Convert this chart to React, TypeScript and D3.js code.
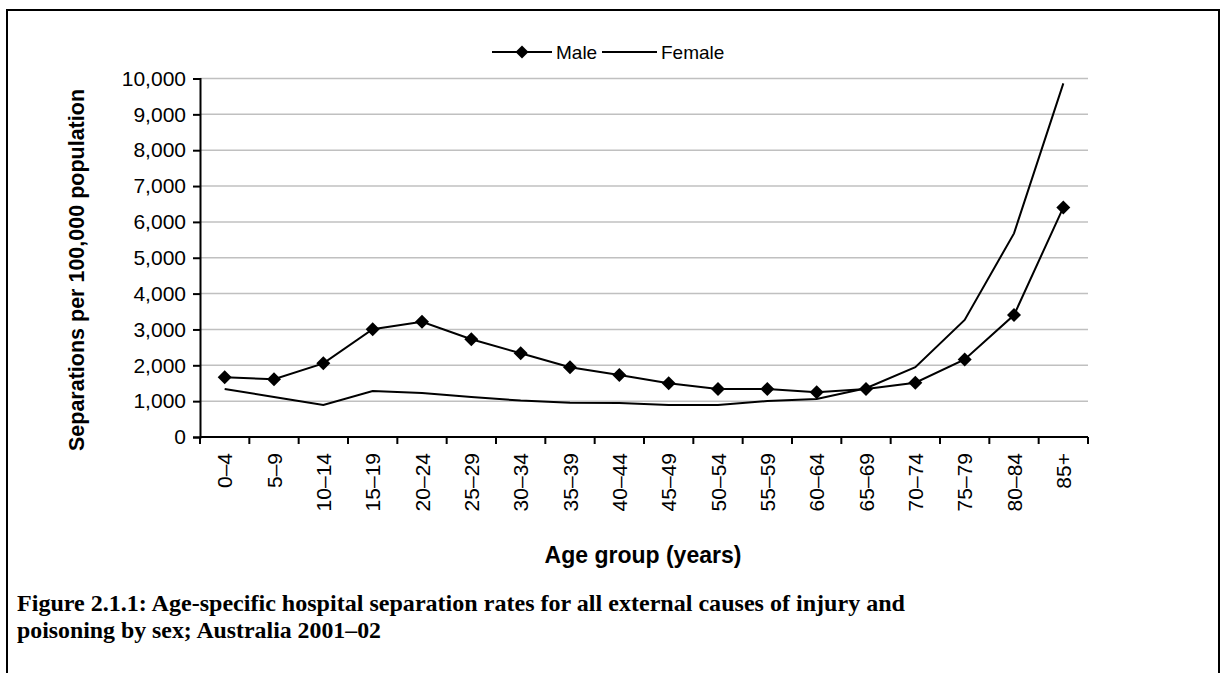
import React, { useEffect, useRef } from "react";
import * as d3 from "d3";

const categories = ["0–4","5–9","10–14","15–19","20–24","25–29","30–34","35–39","40–44","45–49","50–54","55–59","60–64","65–69","70–74","75–79","80–84","85+"];
const maleValues = [1665,1610,2055,3005,3215,2725,2335,1945,1730,1500,1340,1340,1245,1340,1515,2165,3400,6405];
const femaleValues = [1340,1115,895,1285,1225,1115,1015,955,945,895,895,1005,1060,1360,1945,3265,5680,9865];
const yTicks = [0,1000,2000,3000,4000,5000,6000,7000,8000,9000,10000];
const seriesNames = ["Male","Female"];
const yTitle = "Separations per 100,000 population";
const xTitle = "Age group (years)";
const captionLines = [
  "Figure 2.1.1: Age-specific hospital separation rates for all external causes of injury and",
  "poisoning by sex; Australia 2001–02",
];

const W = 1225, H = 673;
const SANS = "'Liberation Sans', Arial, Helvetica, sans-serif";
const SERIF = "'Liberation Serif', 'DejaVu Serif', serif";

export default function App() {
  const ref = useRef<SVGSVGElement>(null);

  useEffect(() => {
    const svg = d3.select(ref.current);
    svg.selectAll("*").remove();

    const left = 200, right = 1088, top = 78.5, bottom = 437;
    const x = d3.scaleBand<string>().domain(categories).range([left, right]).padding(0);
    const xi = d3.scaleLinear().domain([0, categories.length]).range([left, right]);
    const y = d3.scaleLinear().domain([0, 10000]).range([bottom, top]);

    svg.append("rect").attr("x", 0).attr("y", 0).attr("width", W).attr("height", H).attr("fill", "#fff");
    // frame
    svg.append("path")
      .attr("d", `M7,${H + 5} V10 H1219 V${H + 5}`)
      .attr("fill", "none").attr("stroke", "#000").attr("stroke-width", 2);

    // gridlines
    svg.append("g").selectAll("line").data(yTicks.filter(d => d > 0)).join("line")
      .attr("x1", left).attr("x2", right)
      .attr("y1", d => y(d)).attr("y2", d => y(d))
      .attr("stroke", "#c0c0c0").attr("stroke-width", 1.5);

    // y axis
    const yAxis = svg.append("g").attr("transform", `translate(${left},0)`)
      .call(d3.axisLeft(y).tickValues(yTicks).tickSize(7).tickPadding(7).tickFormat(d3.format(",") as any));
    yAxis.select(".domain").attr("stroke", "#000").attr("stroke-width", 2);
    yAxis.selectAll(".tick line").attr("stroke", "#000").attr("stroke-width", 2);
    yAxis.selectAll(".tick text").attr("font-family", SANS).attr("font-size", 21).attr("fill", "#000");

    // x axis
    const xg = svg.append("g");
    xg.append("line").attr("x1", left).attr("x2", right).attr("y1", bottom).attr("y2", bottom)
      .attr("stroke", "#000").attr("stroke-width", 2);
    xg.selectAll("line.t").data(d3.range(categories.length + 1)).join("line").attr("class", "t")
      .attr("x1", d => xi(d)).attr("x2", d => xi(d)).attr("y1", bottom).attr("y2", bottom + 7)
      .attr("stroke", "#000").attr("stroke-width", 2);
    xg.selectAll("text").data(categories).join("text")
      .attr("transform", d => `translate(${(x(d) as number) + x.bandwidth() / 2 + 7.5},453) rotate(-90)`)
      .attr("text-anchor", "end")
      .attr("font-family", SANS).attr("font-size", 21).attr("fill", "#000")
      .text(d => d);

    // axis titles
    svg.append("text")
      .attr("transform", `translate(84,270) rotate(-90)`)
      .attr("text-anchor", "middle").attr("font-family", SANS).attr("font-size", 21.5)
      .attr("font-weight", "bold").text(yTitle);
    svg.append("text")
      .attr("x", 643).attr("y", 563).attr("text-anchor", "middle")
      .attr("font-family", SANS).attr("font-size", 23).attr("font-weight", "bold").text(xTitle);

    // lines
    const line = d3.line<number>().x((_, i) => (x(categories[i]) as number) + x.bandwidth() / 2).y(d => y(d));
    svg.append("path").attr("d", line(femaleValues)).attr("fill", "none").attr("stroke", "#000").attr("stroke-width", 2);
    svg.append("path").attr("d", line(maleValues)).attr("fill", "none").attr("stroke", "#000").attr("stroke-width", 2);
    const diamond = (cx: number, cy: number, r: number) => `M${cx},${cy - r}L${cx + r},${cy}L${cx},${cy + r}L${cx - r},${cy}Z`;
    svg.append("g").selectAll("path").data(maleValues).join("path")
      .attr("d", (d, i) => diamond((x(categories[i]) as number) + x.bandwidth() / 2, y(d), 7))
      .attr("fill", "#000");

    // legend
    const ly = 52;
    const lg = svg.append("g").attr("font-family", SANS).attr("font-size", 19);
    lg.append("line").attr("x1", 492).attr("x2", 552).attr("y1", ly).attr("y2", ly).attr("stroke", "#000").attr("stroke-width", 2);
    lg.append("path").attr("d", diamond(522, ly, 6.5)).attr("fill", "#000");
    lg.append("text").attr("x", 556).attr("y", ly + 7).text(seriesNames[0]);
    lg.append("line").attr("x1", 602).attr("x2", 657).attr("y1", ly).attr("y2", ly).attr("stroke", "#000").attr("stroke-width", 2);
    lg.append("text").attr("x", 661).attr("y", ly + 7).text(seriesNames[1]);

    // caption
    const cap = svg.append("g").attr("font-family", SERIF).attr("font-weight", "bold").attr("font-size", 23).attr("fill", "#000");
    cap.append("text").attr("x", 17).attr("y", 611).attr("textLength", 888).attr("lengthAdjust", "spacingAndGlyphs").text(captionLines[0]);
    cap.append("text").attr("x", 17).attr("y", 638).attr("textLength", 364).attr("lengthAdjust", "spacingAndGlyphs").text(captionLines[1]);
  }, []);

  return (
    <svg ref={ref} width={W} height={H} style={{ position: "absolute", left: 0, top: 0 }} />
  );
}
